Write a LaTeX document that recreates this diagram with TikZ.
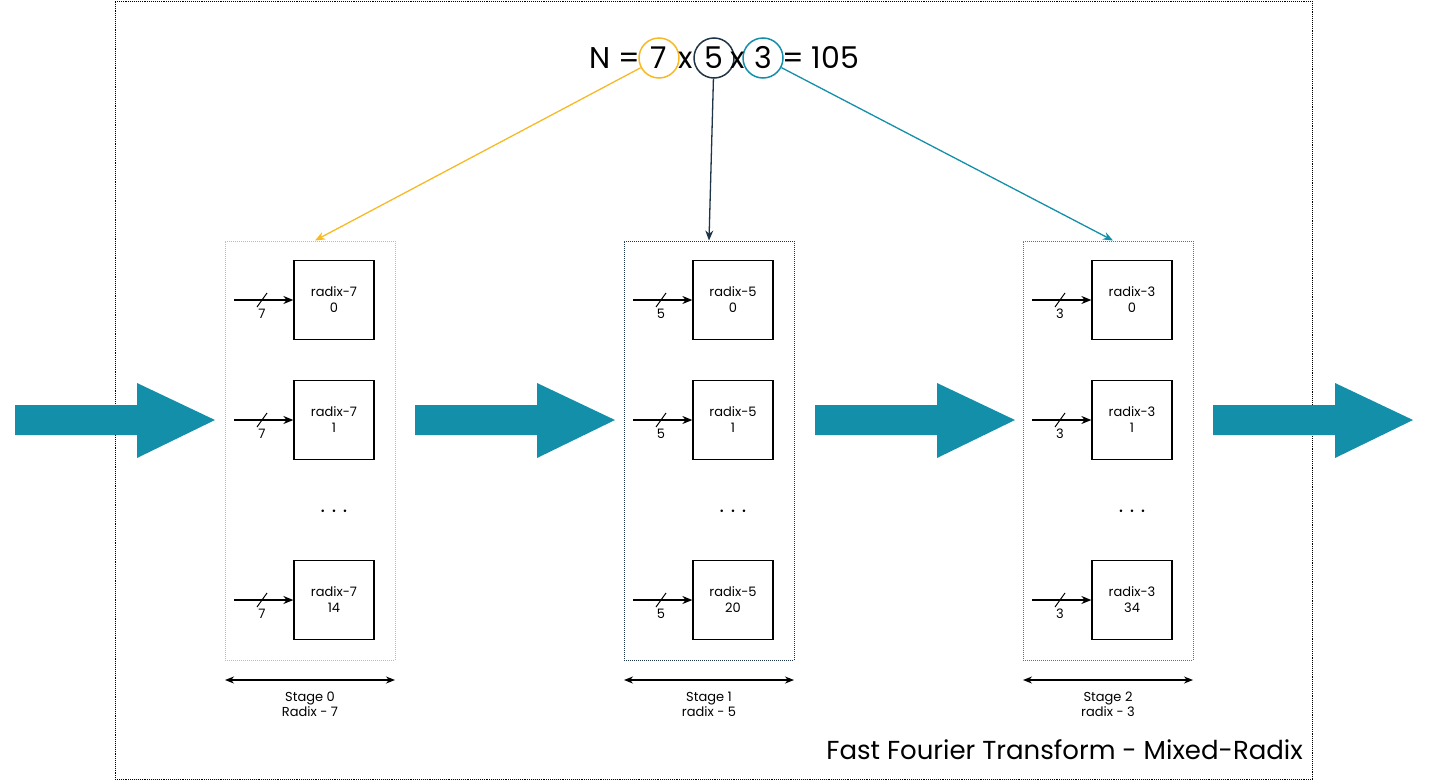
\documentclass[tikz,border=0pt]{standalone}
\usepackage{fontspec}
\setmainfont{Poppins}
\usetikzlibrary{arrows.meta}
\definecolor{cO}{HTML}{F7BA25}
\definecolor{cN}{HTML}{1E3448}
\definecolor{cT}{HTML}{138FAA}
\begin{document}
\begin{tikzpicture}[x=1pt,y=-1pt,
  rbox/.style={draw,line width=1.3pt,minimum width=80pt,minimum height=79pt,align=center,font=\fontsize{13}{16}\selectfont,inner sep=0pt},
  circ/.style={circle,draw,line width=1.5pt,minimum size=40pt,inner sep=0pt,font=\fontsize{30}{30}\selectfont},
  ftxt/.style={font=\fontsize{30}{30}\selectfont,inner sep=0pt},
  small/.style={font=\fontsize{13}{15}\selectfont,inner sep=1pt},
  big/.style={fill=cT,draw=none}]
\useasboundingbox (0,0) rectangle (1447,782);
\node[draw,densely dotted,line width=0.9pt,minimum width=1197pt,minimum height=778pt,inner sep=0pt] (frame) at (713.5,390) {};
\node[circ,draw=cO] (c7) at (659,58) {7};
\node[circ,draw=cN] (c5) at (714,58) {5};
\node[circ,draw=cT] (c3) at (763,58) {3};
\node[ftxt,anchor=east] (neq) at (640,58) {N =};
\node[ftxt] (x1) at (686,60) {x};
\node[ftxt] (x2) at (738,60) {x};
\node[ftxt,anchor=west] (res) at (782,58) {= 105};
\foreach \i/\xs/\col/\r/\a/\b/\c/\lab in {0/225/cO/7/0/1/14/Radix - 7,1/624/cN/5/0/1/20/radix - 5,2/1023/cT/3/0/1/34/radix - 3}{
  \node[draw=\col,densely dotted,line width=1pt,minimum width=170pt,minimum height=419pt,inner sep=0pt] (s\i) at (\xs+85,450.5) {};
  \foreach \k/\y/\n in {a/300/\a,b/420/\b,c/600/\c}{
    \node[rbox] (b\i\k) at (\xs+109,\y) {radix-\r\\\n};
    \coordinate (in\i\k) at (\xs+9,\y);
    \draw[line width=1.3pt,-{Stealth[length=10pt,width=8pt]}] (in\i\k) -- (b\i\k.west);
    \draw[line width=1pt] (\xs+32,\y+7) -- (\xs+42,\y-7);
    \node[small] (l\i\k) at (\xs+37,\y+14) {\r};
  }
  \node[font=\fontsize{30}{30}\selectfont] (d\i) at (\xs+109,512) {$\cdots$};
  \coordinate (sl\i) at (\xs,680);
  \coordinate (sr\i) at (\xs+170,680);
  \draw[line width=1.3pt,{Stealth[length=9pt,width=7pt]}-{Stealth[length=9pt,width=7pt]}] (sl\i) -- (sr\i);
  \node[small,align=center] (t\i) at (\xs+85,704) {Stage \i\\\lab};
}
\foreach \xs in {15,415,815,1213}{
  \fill[big] (\xs,405) -- (\xs+122,405) -- (\xs+122,383) -- (\xs+200,420) -- (\xs+122,458) -- (\xs+122,435) -- (\xs,435) -- cycle;
}
\draw[cO,line width=1.3pt,-{Stealth[length=10pt,width=8pt]}] (c7) -- (s0.north -| 315,0);
\draw[cN,line width=1.3pt,-{Stealth[length=10pt,width=8pt]}] (c5) -- (s1.north);
\draw[cT,line width=1.3pt,-{Stealth[length=10pt,width=8pt]}] (c3) -- (s2.north -| 1113,0);
\node[font=\fontsize{26}{26}\selectfont,anchor=east,inner sep=0pt] (title) at (1303,750) {Fast Fourier Transform - Mixed-Radix};
\end{tikzpicture}
\end{document}
